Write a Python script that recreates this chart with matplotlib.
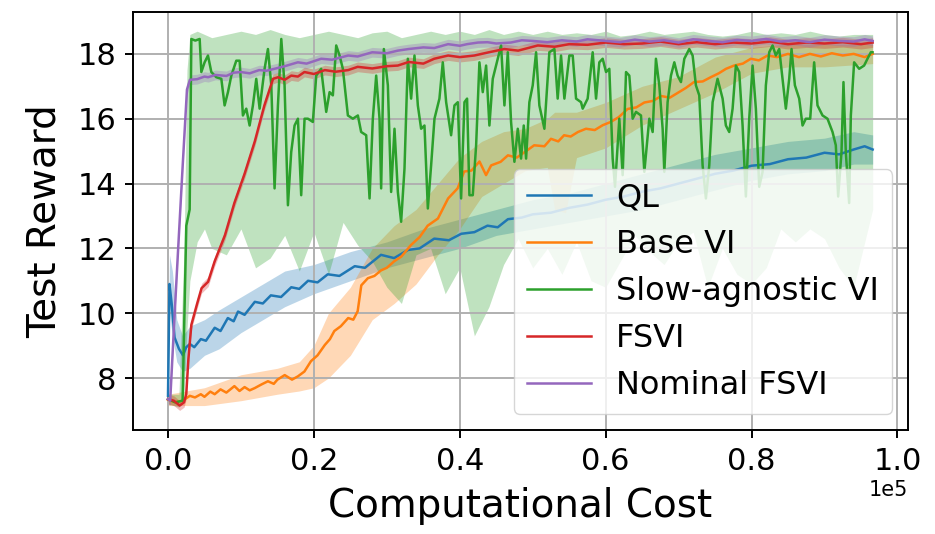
import numpy as np
import matplotlib
matplotlib.use("Agg")
import matplotlib.pyplot as plt

# x values are in units of 1e5 computational cost

# QL
ql_x = [0.0, 0.002, 0.005, 0.009, 0.015, 0.0205, 0.025, 0.03, 0.036, 0.045,
        0.052, 0.064, 0.072, 0.082, 0.09, 0.096, 0.105, 0.119, 0.13, 0.141,
        0.155, 0.169, 0.18, 0.192, 0.205, 0.219, 0.235, 0.256, 0.27, 0.292,
        0.31, 0.329, 0.345, 0.365, 0.385, 0.402, 0.42, 0.438, 0.452, 0.466,
        0.485, 0.5, 0.525, 0.55, 0.575, 0.6, 0.625, 0.65, 0.675, 0.7,
        0.725, 0.75, 0.775, 0.8, 0.825, 0.85, 0.875, 0.9, 0.92, 0.94,
        0.955, 0.966]
ql_y = [7.45, 10.9, 10.3, 9.25, 8.9, 8.7, 8.95, 9.05, 8.95, 9.2,
        9.15, 9.55, 9.45, 9.85, 9.75, 10.05, 9.95, 10.35, 10.3, 10.55,
        10.5, 10.8, 10.75, 11.0, 10.95, 11.2, 11.15, 11.45, 11.4, 11.8,
        11.7, 11.95, 12.0, 12.3, 12.25, 12.45, 12.5, 12.7, 12.65, 12.9,
        12.95, 13.05, 13.1, 13.25, 13.35, 13.5, 13.6, 13.75, 13.85, 14.0,
        14.15, 14.3, 14.4, 14.55, 14.6, 14.75, 14.8, 14.95, 14.9, 15.05,
        15.15, 15.05]
ql_band_x = [0.0, 0.002, 0.006, 0.012, 0.02, 0.03, 0.05, 0.07, 0.1, 0.13,
             0.16, 0.2, 0.25, 0.3, 0.35, 0.4, 0.45, 0.5, 0.55, 0.6,
             0.65, 0.7, 0.75, 0.8, 0.85, 0.9, 0.94, 0.966]
ql_lo = [7.3, 10.0, 9.3, 8.5, 8.2, 8.3, 8.7, 8.9, 9.4, 9.8,
         10.2, 10.6, 11.0, 11.4, 11.7, 12.0, 12.4, 12.6, 12.8, 13.0,
         13.2, 13.5, 13.8, 14.1, 14.3, 14.4, 14.6, 14.6]
ql_hi = [7.6, 11.8, 11.3, 9.8, 9.3, 9.6, 9.8, 10.1, 10.5, 10.9,
         11.3, 11.5, 11.9, 12.2, 12.6, 12.9, 13.2, 13.5, 13.7, 14.0,
         14.3, 14.6, 14.9, 15.1, 15.3, 15.4, 15.6, 15.5]

# Base VI
bvi_x = [0.0, 0.01, 0.02, 0.03, 0.037, 0.045, 0.05, 0.058, 0.064, 0.072,
         0.08, 0.091, 0.098, 0.105, 0.112, 0.119, 0.128, 0.137, 0.145, 0.15,
         0.16, 0.17, 0.178, 0.187, 0.196, 0.205, 0.215, 0.222, 0.228, 0.237,
         0.247, 0.254, 0.26, 0.265, 0.274, 0.283, 0.292, 0.3, 0.31, 0.32,
         0.333, 0.345, 0.356, 0.37, 0.384, 0.397, 0.406, 0.416, 0.427, 0.436,
         0.443, 0.456, 0.466, 0.478, 0.489, 0.502, 0.516, 0.525, 0.535, 0.543,
         0.552, 0.562, 0.573, 0.585, 0.596, 0.607, 0.618, 0.63, 0.642, 0.653,
         0.665, 0.676, 0.688, 0.699, 0.71, 0.721, 0.733, 0.744, 0.755, 0.765,
         0.776, 0.788, 0.799, 0.81, 0.822, 0.835, 0.85, 0.865, 0.88, 0.895,
         0.91, 0.925, 0.94, 0.955, 0.966]
bvi_y = [7.33, 7.25, 7.3, 7.45, 7.4, 7.5, 7.42, 7.58, 7.5, 7.65,
         7.55, 7.75, 7.6, 7.72, 7.62, 7.69, 7.8, 7.9, 7.82, 7.95,
         8.09, 7.95, 8.05, 8.2, 8.52, 8.7, 9.02, 9.2, 9.45, 9.6,
         9.85, 9.8, 10.06, 10.86, 11.08, 11.15, 11.32, 11.4, 11.6, 11.75,
         12.1, 12.35, 12.7, 12.92, 13.54, 13.85, 14.37, 14.4, 14.68, 14.26,
         14.56, 14.67, 14.87, 14.8, 14.97, 15.18, 15.15, 15.38, 15.3, 15.49,
         15.45, 15.59, 15.69, 15.65, 15.8, 15.9, 16.05, 16.3, 16.35, 16.5,
         16.55, 16.7, 16.65, 16.8, 16.95, 17.13, 17.15, 17.28, 17.4, 17.54,
         17.64, 17.7, 17.85, 17.8, 17.95, 17.9, 18.0, 17.9, 18.0, 17.92,
         18.02, 17.95, 18.0, 17.9, 18.0]
bvi_band_x = [0.0, 0.05, 0.1, 0.15, 0.18, 0.2, 0.22, 0.25, 0.28, 0.31,
              0.34, 0.37, 0.4, 0.43, 0.46, 0.49, 0.52, 0.53, 0.545, 0.56,
              0.6, 0.65, 0.7, 0.75, 0.8, 0.85, 0.9, 0.966]
bvi_lo = [7.15, 7.15, 7.3, 7.5, 7.6, 7.7, 8.0, 8.7, 9.8, 10.3,
          10.9, 11.8, 12.6, 13.6, 14.0, 14.4, 14.5, 13.2, 13.1, 14.8,
          15.1, 15.8, 16.3, 16.8, 17.4, 17.6, 17.6, 17.7]
bvi_hi = [7.5, 7.7, 8.1, 8.3, 8.5, 9.0, 10.0, 10.8, 12.0, 12.7,
          13.2, 14.0, 14.8, 15.3, 15.6, 15.7, 16.0, 16.2, 16.2, 16.2,
          16.5, 17.0, 17.3, 17.9, 18.2, 18.3, 18.3, 18.3]

# Slow-agnostic VI
sa_x = [0.0, 0.01, 0.02, 0.0251, 0.0297, 0.032, 0.0374, 0.0434, 0.0457, 0.0502,
        0.0548, 0.0594, 0.0662, 0.0731, 0.0776, 0.0822, 0.0868, 0.0936, 0.0982, 0.1027,
        0.1073, 0.1119, 0.1164, 0.121, 0.1256, 0.1324, 0.137, 0.1416, 0.1461, 0.1507,
        0.1553, 0.1598, 0.1644, 0.1689, 0.1735, 0.1781, 0.1826, 0.1872,
        0.1918, 0.1986, 0.2032, 0.21, 0.2169, 0.2215, 0.226, 0.2306, 0.2352, 0.2397,
        0.2466, 0.2534, 0.2603, 0.2648, 0.2717, 0.2763, 0.2808, 0.2854, 0.29, 0.2922,
        0.2959, 0.3014, 0.3059, 0.3105, 0.3151, 0.3196, 0.3242, 0.3288, 0.3333, 0.3379,
        0.3425, 0.347, 0.3516, 0.3562, 0.3607, 0.3653, 0.3721, 0.3767, 0.3813,
        0.3881, 0.3927, 0.3973, 0.4018, 0.4064, 0.41, 0.4132, 0.4178, 0.4224, 0.4269,
        0.4315, 0.4361, 0.4406, 0.4452, 0.4521, 0.4566, 0.4612, 0.4658, 0.4703, 0.4749,
        0.4795, 0.484, 0.4877, 0.4909, 0.4954, 0.5, 0.5046, 0.5091, 0.516, 0.5228,
        0.5297, 0.5342, 0.5388, 0.5434, 0.5502, 0.5548, 0.5594, 0.5662,
        0.5685, 0.5753, 0.5822, 0.5868, 0.5913, 0.5959, 0.6005, 0.605, 0.6096, 0.6128,
        0.6187, 0.6233, 0.6279, 0.6324, 0.637, 0.6416, 0.6484, 0.653, 0.6598, 0.6644,
        0.6689, 0.6735, 0.6781, 0.6804, 0.6849, 0.6895, 0.6941, 0.6986, 0.7032, 0.7078,
        0.7146, 0.7192, 0.7237, 0.7283, 0.7329, 0.7374, 0.742, 0.7466, 0.7534, 0.7603,
        0.7648,
        0.7694, 0.774, 0.7785, 0.7831, 0.7877, 0.7922, 0.7968, 0.8014, 0.8059, 0.8105,
        0.8151, 0.8196, 0.8242, 0.8288, 0.8333, 0.8379, 0.8425, 0.847, 0.8516, 0.8548,
        0.8594, 0.8653, 0.8699, 0.8744, 0.8804, 0.8858, 0.8904, 0.8973, 0.9041, 0.911,
        0.9155, 0.9187, 0.9233, 0.926, 0.9292, 0.9338, 0.9361, 0.9406, 0.9475, 0.9543,
        0.9589, 0.9635, 0.9658]
sa_y = [7.35, 7.25, 7.3, 12.7, 13.2, 18.46, 18.41, 18.46, 17.44, 17.74,
        17.95, 17.44, 17.28, 17.23, 16.41, 16.82, 17.33, 17.79, 17.79, 16.1,
        16.31, 15.79, 16.41, 17.23, 16.31, 17.54, 18.15, 17.03, 13.85, 16.41,
        18.46, 17.03, 13.33, 14.97, 15.79, 16.0, 13.64, 16.0,
        16.0, 15.9, 17.33, 17.54, 16.21, 16.82, 16.72, 18.26, 17.95, 17.54,
        16.1, 16.0, 16.1, 15.59, 15.49, 13.54, 16.0, 17.33, 16.0, 13.85,
        18.15, 17.03, 13.74, 15.69, 13.74, 12.82, 14.46, 17.85, 16.62, 17.95,
        16.41, 15.69, 15.79, 13.23, 14.56, 16.0, 16.62, 17.74, 16.51,
        15.49, 16.41, 16.51, 13.54, 16.51, 16.62, 13.64, 13.64, 15.18, 17.74,
        16.82, 17.64, 15.79, 17.23, 17.85, 18.26, 16.41, 18.05, 15.9, 14.67,
        15.69, 14.77, 15.79, 14.77, 16.51, 17.03, 18.05, 16.41, 15.69, 18.05,
        18.15, 16.62, 17.95, 16.62, 17.95, 17.95, 16.62, 16.51,
        16.31, 16.62, 18.05, 16.62, 17.74, 17.85, 17.44, 17.54, 14.77, 13.9,
        16.0, 14.26, 17.44, 17.33, 16.0, 16.21, 16.1, 14.36, 16.0, 15.59,
        17.85, 17.03, 15.69, 14.36, 16.51, 17.33, 17.74, 17.33, 17.13, 17.85,
        18.15, 17.95, 17.03, 16.72, 14.56, 13.54, 14.56, 16.51, 17.23, 16.62,
        15.79,
        15.59, 16.31, 17.64, 17.44, 15.79, 13.6, 16.0, 17.64, 16.31, 13.9,
        14.36, 17.03, 18.05, 18.26, 17.95, 18.15, 17.23, 16.31, 17.23, 18.15,
        17.03, 16.62, 15.79, 16.0, 16.0, 17.74, 16.41, 16.1, 16.0, 15.59,
        15.18, 13.6, 14.97, 17.13, 14.97, 13.4, 16.1, 17.74, 17.54, 17.64,
        17.85, 18.05, 18.05]
sa_band_x = [0.0, 0.015, 0.022, 0.026, 0.03, 0.04, 0.05, 0.06, 0.08, 0.1,
             0.12, 0.14, 0.16, 0.18, 0.2, 0.22, 0.24, 0.26, 0.28, 0.3,
             0.32, 0.34, 0.36, 0.38, 0.4, 0.42, 0.44, 0.46, 0.48, 0.5,
             0.52, 0.54, 0.56, 0.58, 0.6, 0.62, 0.64, 0.66, 0.68, 0.7,
             0.72, 0.74, 0.76, 0.78, 0.8, 0.82, 0.84, 0.86, 0.88, 0.9,
             0.92, 0.94, 0.966]
sa_lo = [7.2, 7.1, 7.5, 9.5, 11.0, 12.2, 12.6, 12.0, 11.8, 12.6,
         11.4, 11.7, 12.4, 11.3, 12.5, 11.2, 12.8, 12.1, 11.6, 10.8,
         10.3, 11.8, 12.0, 10.6, 11.4, 9.3, 10.2, 11.5, 12.3, 11.4,
         12.0, 11.2, 12.2, 11.0, 10.8, 11.6, 12.4, 11.9, 11.5, 12.2,
         12.5, 10.8, 12.0, 11.2, 10.9, 11.4, 12.6, 12.2, 12.6, 12.3,
         11.4, 10.8, 13.2]
sa_hi = [7.5, 7.5, 12.0, 17.5, 18.6, 18.7, 18.6, 18.5, 18.6, 18.7,
         18.6, 18.75, 18.6, 18.5, 18.6, 18.7, 18.6, 18.5, 18.65, 18.7,
         18.5, 18.6, 18.7, 18.6, 18.7, 18.6, 18.75, 18.6, 18.7, 18.6,
         18.7, 18.6, 18.65, 18.6, 18.7, 18.55, 18.6, 18.7, 18.6, 18.65,
         18.7, 18.6, 18.55, 18.6, 18.7, 18.6, 18.65, 18.6, 18.7, 18.6,
         18.55, 18.6, 18.6]

# FSVI
fsvi_x = [0.0, 0.008, 0.016, 0.022, 0.025, 0.028, 0.032, 0.04, 0.046, 0.055,
          0.064, 0.078, 0.091, 0.105, 0.119, 0.132, 0.144, 0.151, 0.16, 0.169,
          0.178, 0.187, 0.2, 0.215, 0.23, 0.247, 0.26, 0.28, 0.3, 0.315,
          0.33, 0.35, 0.365, 0.384, 0.4, 0.42, 0.44, 0.461, 0.48, 0.507,
          0.53, 0.55, 0.575, 0.6, 0.625, 0.65, 0.675, 0.7, 0.725, 0.75,
          0.775, 0.8, 0.825, 0.85, 0.875, 0.9, 0.925, 0.95, 0.966]
fsvi_y = [7.35, 7.3, 7.15, 7.25, 7.5, 8.6, 9.64, 10.3, 10.77, 10.97,
          11.6, 12.4, 13.4, 14.3, 15.3, 16.4, 17.23, 17.28, 17.2, 17.33,
          17.3, 17.44, 17.38, 17.5, 17.45, 17.5, 17.6, 17.55, 17.62, 17.64,
          17.75, 17.7, 17.85, 17.95, 17.9, 17.95, 18.05, 18.15, 18.1, 18.26,
          18.22, 18.3, 18.28, 18.35, 18.3, 18.32, 18.38, 18.3, 18.36, 18.3,
          18.35, 18.32, 18.38, 18.3, 18.35, 18.32, 18.36, 18.3, 18.35]
fsvi_spread = 0.15

# Nominal FSVI
nom_x = [0.0, 0.003, 0.008, 0.0137, 0.02, 0.026, 0.03, 0.04, 0.05, 0.055,
         0.065, 0.08, 0.09, 0.1, 0.112, 0.125, 0.135, 0.146, 0.16, 0.178,
         0.19, 0.21, 0.225, 0.247, 0.26, 0.28, 0.3, 0.315, 0.33, 0.35,
         0.365, 0.384, 0.4, 0.41, 0.425, 0.438, 0.45, 0.47, 0.485, 0.5,
         0.52, 0.54, 0.56, 0.575, 0.6, 0.62, 0.64, 0.66, 0.68, 0.7,
         0.72, 0.74, 0.76, 0.78, 0.8, 0.82, 0.84, 0.86, 0.88, 0.9,
         0.92, 0.94, 0.955, 0.966]
nom_y = [7.35, 7.3, 9.5, 11.9, 14.5, 16.9, 17.2, 17.22, 17.3, 17.28,
         17.35, 17.32, 17.42, 17.44, 17.4, 17.5, 17.48, 17.54, 17.62, 17.74,
         17.7, 17.85, 17.82, 17.95, 17.92, 18.05, 18.02, 18.1, 18.15, 18.2,
         18.18, 18.3, 18.25, 18.3, 18.35, 18.36, 18.32, 18.35, 18.42, 18.4,
         18.36, 18.42, 18.38, 18.45, 18.4, 18.36, 18.44, 18.38, 18.42, 18.35,
         18.45, 18.4, 18.36, 18.43, 18.4, 18.46, 18.38, 18.42, 18.36, 18.44,
         18.4, 18.38, 18.45, 18.4]
nom_spread = 0.15

scale = 1e5

plt.rcParams['axes.linewidth'] = 1.4
plt.rcParams['grid.linewidth'] = 1.4

fig, ax = plt.subplots(figsize=(9.35, 5.34), dpi=100)
fig.subplots_adjust(left=0.142, right=0.971, bottom=0.195, top=0.978)

lw = 1.8
ax.fill_between(np.array(ql_band_x) * scale, ql_lo, ql_hi, color='C0', alpha=0.3, lw=0)
ax.plot(np.array(ql_x) * scale, ql_y, color='C0', lw=lw, label='QL')

ax.fill_between(np.array(bvi_band_x) * scale, bvi_lo, bvi_hi, color='C1', alpha=0.3, lw=0)
ax.plot(np.array(bvi_x) * scale, bvi_y, color='C1', lw=lw, label='Base VI')

ax.fill_between(np.array(sa_band_x) * scale, sa_lo, sa_hi, color='C2', alpha=0.3, lw=0)
ax.plot(np.array(sa_x) * scale, sa_y, color='C2', lw=lw, label='Slow-agnostic VI')

fy = np.array(fsvi_y)
ax.fill_between(np.array(fsvi_x) * scale, fy - fsvi_spread, fy + fsvi_spread,
                color='C3', alpha=0.3, lw=0)
ax.plot(np.array(fsvi_x) * scale, fy, color='C3', lw=lw, label='FSVI')

ny = np.array(nom_y)
ax.fill_between(np.array(nom_x) * scale, ny - nom_spread, ny + nom_spread,
                color='C4', alpha=0.3, lw=0)
ax.plot(np.array(nom_x) * scale, ny, color='C4', lw=lw, label='Nominal FSVI')

ax.set_ylim(6.4, 19.3)
ax.set_yticks([8, 10, 12, 14, 16, 18])
ax.ticklabel_format(axis='x', style='sci', scilimits=(0, 0))
ax.grid(True)
ax.tick_params(labelsize=22, length=6, width=1.4, pad=6)
ax.xaxis.get_offset_text().set_fontsize(15)
ax.set_xlabel('Computational Cost', fontsize=28, labelpad=8)
ax.set_ylabel('Test Reward', fontsize=28, labelpad=10)
ax.legend(loc='lower right', fontsize=23)

fig.savefig('out.png', dpi=100)
